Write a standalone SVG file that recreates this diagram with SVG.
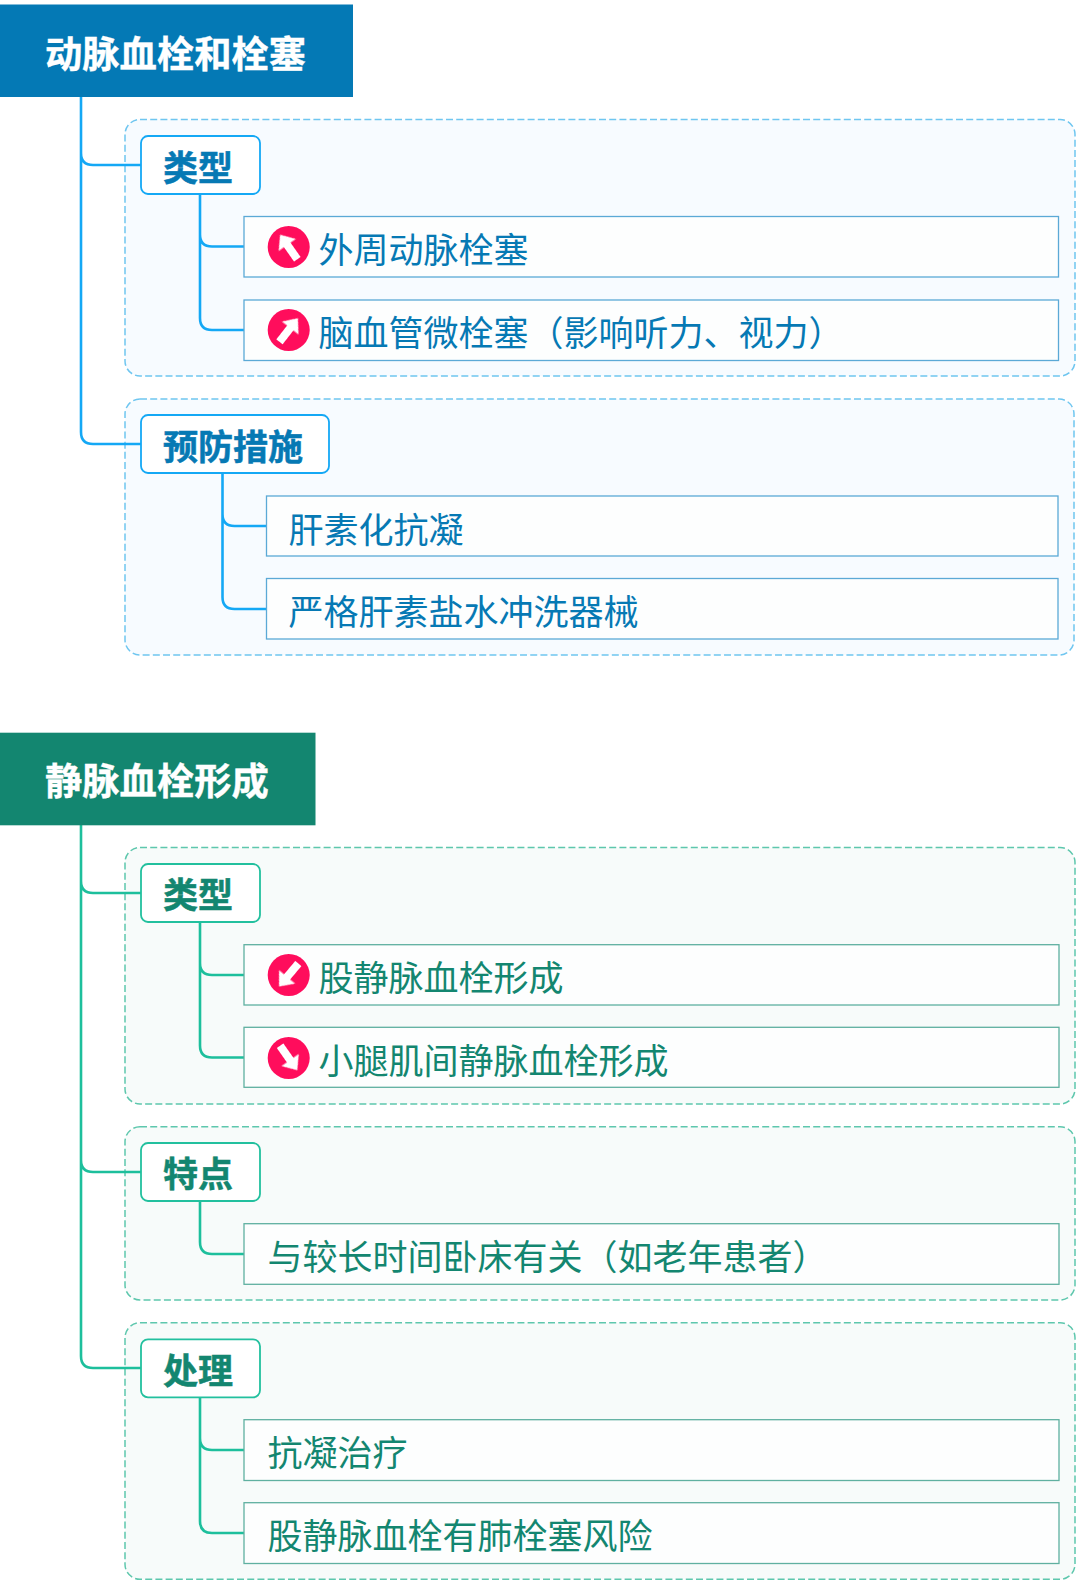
<svg xmlns="http://www.w3.org/2000/svg" width="1080" height="1591" viewBox="0 0 1080 1591">
<style>
text{font-family:"Noto Sans CJK SC","Noto Sans",sans-serif;font-size:35px}
.b{font-weight:700;stroke-width:.5}
.root{font-size:37.300px;font-weight:700;fill:#fff;stroke:#fff;stroke-width:.4}
.frame{stroke-width:1.5;stroke-dasharray:7 3.2}
.conn{fill:none;stroke-width:2.600}
.blue .frame{fill:#f7fbff;stroke:#6fc6f0}
.blue .sub{fill:#fff;stroke:#14a8f5;stroke-width:1.800}
.blue .leaf{fill:#fdfefe;stroke:#5ba9d6;stroke-width:1.300}
.blue text{fill:#0679b4}
.blue .b{stroke:#0679b4}
.blue .conn{stroke:#14a8f5}
.green .frame{fill:#f7fbfa;stroke:#5ec7ad}
.green .sub{fill:#fff;stroke:#22c09e;stroke-width:1.800}
.green .leaf{fill:#fdfefe;stroke:#5fb0a0;stroke-width:1.300}
.green text{fill:#138670}
.green .b{stroke:#138670}
.green .conn{stroke:#1dbf9c}
text.root{fill:#fff}
.ic{fill:#ff0a5c}
.ar{fill:#fff}
</style>
<defs>
<filter id="soft" x="-10%" y="-10%" width="120%" height="120%"><feGaussianBlur stdDeviation=".6"/></filter>
<g id="icon" filter="url(#soft)"><circle class="ic" r="21"/></g>
<path id="arrow" class="ar" d="M0-15 10.500-2.500H4V15H-4V-2.500H-10.500Z" filter="url(#soft)"/>
</defs>

<g class="blue">
<g id="frames-a">
<rect class="frame" x="125" y="119.500" width="950" height="256.500" rx="15"/>
<rect class="frame" x="125" y="399" width="949" height="256" rx="15"/>
</g>
<g id="connectors-a">
<path class="conn" d="M81 97V153Q81 165 93 165H141M81 153V432Q81 444 93 444H141"/>
<path class="conn" d="M200 194V234.500Q200 246.500 212 246.500H244M200 234.500V318Q200 330 212 330H244"/>
<path class="conn" d="M222.500 473V514Q222.500 526 234.500 526H266.500M222.500 514V597Q222.500 609 234.500 609H266.500"/>
</g>
<g id="root-a"><rect x="0" y="4.500" width="353" height="92.500" fill="#0479b5"/><text class="root" x="45" y="68">动脉血栓和栓塞</text></g>
<g id="a-type"><rect class="sub" x="141" y="136" width="119" height="58" rx="7"/><text class="b" x="163" y="180.500">类型</text></g>
<g id="a-peripheral"><rect class="leaf" x="244" y="216.500" width="814.500" height="60.500"/><use href="#icon" x="288.700" y="247"/><use href="#arrow" transform="translate(288.700 247) rotate(-35)"/><text x="318.500" y="263">外周动脉栓塞</text></g>
<g id="a-cerebral"><rect class="leaf" x="244" y="300" width="814.500" height="60.500"/><use href="#icon" x="288.700" y="330"/><use href="#arrow" transform="translate(288.700 330) rotate(38)"/><text x="318.500" y="346">脑血管微栓塞（影响听力、视力）</text></g>
<g id="a-prevent"><rect class="sub" x="141" y="415" width="188" height="58" rx="7"/><text class="b" x="163" y="459.500">预防措施</text></g>
<g id="a-heparin"><rect class="leaf" x="266.500" y="496" width="791.500" height="60"/><text x="288.500" y="543">肝素化抗凝</text></g>
<g id="a-flush"><rect class="leaf" x="266.500" y="578.500" width="791.500" height="60.500"/><text x="288.500" y="625">严格肝素盐水冲洗器械</text></g>
</g>

<g class="green">
<g id="frames-v">
<rect class="frame" x="125" y="847.500" width="950" height="256.500" rx="15"/>
<rect class="frame" x="125" y="1126.700" width="950" height="173.300" rx="15"/>
<rect class="frame" x="125" y="1322.700" width="950" height="256.600" rx="15"/>
</g>
<g id="connectors-v">
<path class="conn" d="M81 825V881Q81 893 93 893H141M81 881V1160Q81 1172 93 1172H141M81 1160V1356Q81 1368 93 1368H141"/>
<path class="conn" d="M200 922V963Q200 975 212 975H244M200 963V1045.500Q200 1057.500 212 1057.500H244"/>
<path class="conn" d="M200 1201V1242Q200 1254 212 1254H244"/>
<path class="conn" d="M200 1397V1438Q200 1450 212 1450H244M200 1438V1521Q200 1533 212 1533H244"/>
</g>
<g id="root-v"><rect x="0" y="732.700" width="315.500" height="92.600" fill="#138670"/><text class="root" x="45" y="795">静脉血栓形成</text></g>
<g id="v-type"><rect class="sub" x="141" y="864" width="119" height="58" rx="7"/><text class="b" x="163" y="908">类型</text></g>
<g id="v-femoral"><rect class="leaf" x="244" y="944.700" width="815" height="60.300"/><use href="#icon" x="288.700" y="975"/><use href="#arrow" transform="translate(288.700 975) rotate(-140)"/><text x="318.500" y="991">股静脉血栓形成</text></g>
<g id="v-calf"><rect class="leaf" x="244" y="1027.300" width="815" height="60"/><use href="#icon" x="288.700" y="1058"/><use href="#arrow" transform="translate(288.700 1058) rotate(145)"/><text x="318.500" y="1074">小腿肌间静脉血栓形成</text></g>
<g id="v-feature"><rect class="sub" x="141" y="1143" width="119" height="58" rx="7"/><text class="b" x="163" y="1187">特点</text></g>
<g id="v-bedrest"><rect class="leaf" x="244" y="1223.700" width="815" height="60.600"/><text x="267.500" y="1270">与较长时间卧床有关（如老年患者）</text></g>
<g id="v-treat"><rect class="sub" x="141" y="1339.300" width="119" height="58" rx="7"/><text class="b" x="163" y="1383.500">处理</text></g>
<g id="v-anticoag"><rect class="leaf" x="244" y="1419.700" width="815" height="60.800"/><text x="267.500" y="1466">抗凝治疗</text></g>
<g id="v-pe"><rect class="leaf" x="244" y="1502.700" width="815" height="60.800"/><text x="267.500" y="1549">股静脉血栓有肺栓塞风险</text></g>
</g>
</svg>
